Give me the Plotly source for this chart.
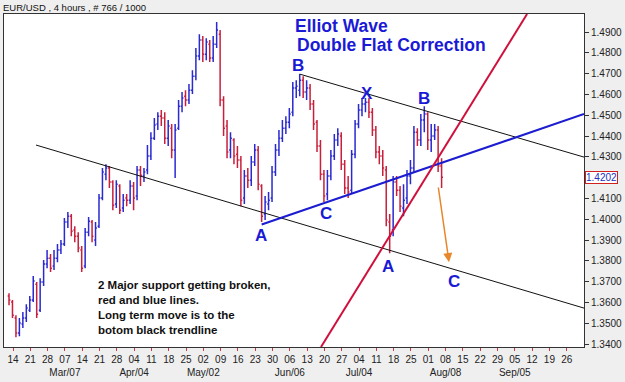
import numpy as np
import plotly.graph_objects as go

# ---------------- data ----------------
week_labels = ["14", "21", "28", "07", "14", "21", "28", "04", "11", "18", "25", "02", "09",
               "16", "23", "30", "06", "13", "20", "27", "04", "11", "18", "25", "01", "08",
               "15", "22", "29", "05", "12", "19", "26"]
month_labels = {3: "Mar/07", 7: "Apr/04", 11: "May/02", 16: "Jun/06",
                20: "Jul/04", 25: "Aug/08", 29: "Sep/05"}

open_ = [1.3631, 1.3602, 1.3525, 1.3453, 1.3496, 1.3525, 1.3563, 1.3612, 1.3688, 1.3563,
         1.3698, 1.3785, 1.3813, 1.3775, 1.3813, 1.3852, 1.3881, 1.3987, 1.4015, 1.3948,
         1.3919, 1.3852, 1.3775, 1.3938, 1.3987, 1.3900, 1.3967, 1.4102, 1.4217, 1.4246,
         1.4179, 1.4073, 1.4160, 1.4054, 1.4102, 1.4092, 1.4160, 1.4112, 1.4237, 1.4208,
         1.4237, 1.4304, 1.4390, 1.4458, 1.4496, 1.4487, 1.4390, 1.4438, 1.4333, 1.4438,
         1.4544, 1.4592, 1.4573, 1.4621, 1.4688, 1.4785, 1.4862, 1.4794, 1.4842, 1.4775,
         1.4842, 1.4890, 1.4573, 1.4448, 1.4333, 1.4381, 1.4313, 1.4285, 1.4102, 1.4208,
         1.4188, 1.4275, 1.4333, 1.4160, 1.4025, 1.4073, 1.4102, 1.4227, 1.4333, 1.4390,
         1.4438, 1.4467, 1.4515, 1.4631, 1.4621, 1.4669, 1.4612, 1.4631, 1.4554, 1.4467,
         1.4352, 1.4217, 1.4121, 1.4208, 1.4304, 1.4381, 1.4400, 1.4265, 1.4150, 1.4140,
         1.4313, 1.4458, 1.4525, 1.4554, 1.4563, 1.4515, 1.4429, 1.4323, 1.4304, 1.4237,
         1.3987, 1.3948, 1.4179, 1.4140, 1.4054, 1.4102, 1.4208, 1.4246, 1.4419, 1.4381,
         1.4477, 1.4506, 1.4381, 1.4400, 1.4429, 1.4256]
high = [1.3645, 1.3612, 1.3539, 1.3525, 1.3554, 1.3592, 1.3631, 1.3727, 1.3698, 1.3717,
        1.3804, 1.3852, 1.3833, 1.3852, 1.3881, 1.3900, 1.4006, 1.4035, 1.4025, 1.3967,
        1.3938, 1.3871, 1.3958, 1.4011, 1.3996, 1.3987, 1.4121, 1.4246, 1.4265, 1.4256,
        1.4188, 1.4188, 1.4169, 1.4121, 1.4121, 1.4188, 1.4179, 1.4256, 1.4256, 1.4246,
        1.4357, 1.4419, 1.4487, 1.4515, 1.4525, 1.4515, 1.4477, 1.4458, 1.4458, 1.4573,
        1.4612, 1.4621, 1.4650, 1.4717, 1.4823, 1.4890, 1.4881, 1.4871, 1.4862, 1.4881,
        1.4948, 1.4910, 1.4592, 1.4477, 1.4419, 1.4390, 1.4352, 1.4304, 1.4237, 1.4246,
        1.4304, 1.4362, 1.4352, 1.4169, 1.4112, 1.4131, 1.4256, 1.4362, 1.4429, 1.4477,
        1.4496, 1.4535, 1.4660, 1.4669, 1.4698, 1.4688, 1.4669, 1.4650, 1.4573, 1.4477,
        1.4381, 1.4237, 1.4237, 1.4333, 1.4410, 1.4438, 1.4419, 1.4285, 1.4208, 1.4333,
        1.4477, 1.4554, 1.4583, 1.4583, 1.4583, 1.4535, 1.4448, 1.4352, 1.4333, 1.4256,
        1.4025, 1.4208, 1.4208, 1.4160, 1.4169, 1.4237, 1.4285, 1.4448, 1.4438, 1.4506,
        1.4544, 1.4515, 1.4458, 1.4458, 1.4448, 1.4294]
low = [1.3587, 1.3525, 1.3433, 1.3438, 1.3477, 1.3506, 1.3554, 1.3602, 1.3525, 1.3554,
       1.3679, 1.3765, 1.3746, 1.3756, 1.3794, 1.3833, 1.3871, 1.3958, 1.3919, 1.3890,
       1.3842, 1.3746, 1.3765, 1.3919, 1.3890, 1.3871, 1.3958, 1.4092, 1.4188, 1.4150,
       1.4044, 1.4054, 1.4025, 1.4035, 1.4063, 1.4073, 1.4044, 1.4092, 1.4160, 1.4179,
       1.4217, 1.4285, 1.4381, 1.4429, 1.4448, 1.4362, 1.4352, 1.4294, 1.4198, 1.4429,
       1.4515, 1.4544, 1.4554, 1.4602, 1.4669, 1.4765, 1.4756, 1.4765, 1.4756, 1.4756,
       1.4823, 1.4544, 1.4400, 1.4294, 1.4294, 1.4265, 1.4246, 1.4063, 1.4073, 1.4150,
       1.4160, 1.4256, 1.4140, 1.3987, 1.3996, 1.4044, 1.4083, 1.4208, 1.4304, 1.4371,
       1.4410, 1.4438, 1.4496, 1.4583, 1.4592, 1.4583, 1.4573, 1.4525, 1.4429, 1.4323,
       1.4188, 1.4083, 1.4092, 1.4188, 1.4285, 1.4352, 1.4237, 1.4121, 1.4102, 1.4121,
       1.4294, 1.4438, 1.4496, 1.4515, 1.4487, 1.4400, 1.4294, 1.4265, 1.4208, 1.3967,
       1.3837, 1.3919, 1.4112, 1.4035, 1.4015, 1.4073, 1.4169, 1.4227, 1.4352, 1.4352,
       1.4419, 1.4333, 1.4323, 1.4381, 1.4227, 1.4150]
close = [1.3612, 1.3539, 1.3453, 1.3501, 1.3525, 1.3573, 1.3612, 1.3703, 1.3544, 1.3698,
         1.3785, 1.3813, 1.3765, 1.3813, 1.3852, 1.3881, 1.3987, 1.4015, 1.3943, 1.3919,
         1.3862, 1.3765, 1.3938, 1.3991, 1.3919, 1.3958, 1.4102, 1.4227, 1.4246, 1.4179,
         1.4068, 1.4169, 1.4044, 1.4092, 1.4092, 1.4160, 1.4102, 1.4237, 1.4212, 1.4227,
         1.4304, 1.4390, 1.4453, 1.4496, 1.4487, 1.4390, 1.4448, 1.4333, 1.4429, 1.4544,
         1.4583, 1.4573, 1.4621, 1.4688, 1.4785, 1.4862, 1.4794, 1.4852, 1.4775, 1.4842,
         1.4910, 1.4573, 1.4438, 1.4323, 1.4390, 1.4304, 1.4285, 1.4092, 1.4208, 1.4188,
         1.4275, 1.4333, 1.4169, 1.4015, 1.4083, 1.4092, 1.4227, 1.4333, 1.4390, 1.4438,
         1.4467, 1.4506, 1.4631, 1.4640, 1.4669, 1.4612, 1.4631, 1.4554, 1.4458, 1.4352,
         1.4217, 1.4112, 1.4208, 1.4304, 1.4381, 1.4410, 1.4265, 1.4150, 1.4131, 1.4313,
         1.4458, 1.4525, 1.4554, 1.4563, 1.4515, 1.4429, 1.4323, 1.4304, 1.4246, 1.3996,
         1.3919, 1.4179, 1.4140, 1.4063, 1.4092, 1.4208, 1.4246, 1.4419, 1.4381, 1.4477,
         1.4506, 1.4381, 1.4400, 1.4429, 1.4256, 1.4202]
last_price = 1.4202
price_ticks = [1.34, 1.35, 1.36, 1.37, 1.38, 1.39, 1.40, 1.41,
               1.43, 1.44, 1.45, 1.46, 1.47, 1.48, 1.49]

# trendline anchor points: (week, price)
upper_line = [(16.57, 1.4698), (33.0, 1.4299)]
lower_line = [(1.33, 1.4357), (33.0, 1.3573)]
blue_line = [(14.37, 1.3975), (33.0, 1.4506)]
red_line = [(17.80, 1.3386), (29.71, 1.4987)]
projection = [(24.57, 1.4160), (25.20, 1.3794)]

wave_labels = [("B", 16.47, 1.4741), ("X", 20.46, 1.4604), ("B", 23.76, 1.4580),
               ("A", 14.34, 1.3922), ("C", 18.09, 1.4027), ("A", 21.65, 1.3775),
               ("C", 25.49, 1.3703)]

# time axis: daily sessions, 5 per week, in week units
x_week = -0.23 + np.arange(len(close)) / 5.0

FONT = "Liberation Sans, Arial, sans-serif"
BLUE_TXT = "#1a1ad6"

fig = go.Figure()
fig.add_trace(go.Ohlc(
    x=x_week, open=open_, high=high, low=low, close=close,
    increasing=dict(line=dict(color="#2a2ad0", width=1.5)),
    decreasing=dict(line=dict(color="#c8203c", width=1.5)),
    tickwidth=0.4, showlegend=False, hoverinfo="skip"))

def seg(pts, color, width):
    (x0, y0), (x1, y1) = pts
    return dict(type="line", xref="x", yref="y", x0=x0, y0=y0, x1=x1, y1=y1,
                line=dict(color=color, width=width), layer="above")

shapes = [
    seg(upper_line, "#111111", 1),
    seg(lower_line, "#111111", 1),
    seg(blue_line, "#1c1cd0", 2),
    seg(red_line, "#d0103c", 2),
]

tickvals = list(range(len(week_labels)))
ticktext = [lab + ("<br>" + month_labels[i] if i in month_labels else "")
            for i, lab in enumerate(week_labels)]

annotations = []
for t, x, y in wave_labels:
    annotations.append(dict(x=x, y=y, xref="x", yref="y", text=t, showarrow=False,
                            font=dict(family=FONT, size=17, color=BLUE_TXT, weight="bold")))

annotations.append(dict(x=projection[1][0], y=projection[1][1], ax=projection[0][0],
                        ay=projection[0][1], xref="x", yref="y", axref="x", ayref="y",
                        text="", showarrow=True, arrowhead=2, arrowsize=1.2,
                        arrowwidth=1.5, arrowcolor="#e8862a"))

annotations += [
    dict(xref="paper", yref="paper", x=0.4985, y=0.964, xanchor="left", yanchor="middle",
         text="Elliot Wave", showarrow=False,
         font=dict(family=FONT, size=17.5, color=BLUE_TXT, weight="bold")),
    dict(xref="paper", yref="paper", x=0.501, y=0.908, xanchor="left", yanchor="middle",
         text="Double Flat Correction", showarrow=False,
         font=dict(family=FONT, size=17.5, color=BLUE_TXT, weight="bold")),
    dict(xref="paper", yref="paper", x=0.158, y=0.118, xanchor="left", yanchor="middle",
         align="left", showarrow=False,
         text="2 Major support getting broken,<br>red and blue lines.<br>"
              "Long term move is to the<br>botom black trendline",
         font=dict(family=FONT, size=11.5, color="#111111", weight="bold")),
    dict(xref="paper", yref="paper", x=0, y=1, xanchor="left", yanchor="bottom",
         xshift=-3, yshift=-1, text="EUR/USD , 4 hours , # 766 / 1000", showarrow=False,
         font=dict(family=FONT, size=9.5, color="#111111")),
    dict(xref="paper", yref="y", x=1, y=last_price, xanchor="left", yanchor="middle",
         xshift=1, text=f"{last_price:.4f}", showarrow=False, bgcolor="white",
         bordercolor="#d02020", borderwidth=1, borderpad=0,
         font=dict(family=FONT, size=10, color="#2030c0")),
]

fig.update_layout(
    width=625, height=382,
    margin=dict(l=4, r=41, t=14, b=35, autoexpand=False),
    paper_bgcolor="#efefef", plot_bgcolor="white",
    shapes=shapes, annotations=annotations,
    showlegend=False,
    font=dict(family=FONT, size=10, color="#222222"),
    xaxis=dict(range=[-0.52, 33.0], tickvals=tickvals, ticktext=ticktext,
               tickangle=0, automargin=False,
               showgrid=False, zeroline=False, showline=True, mirror=True,
               linecolor="#333333", linewidth=1, ticks="outside", ticklen=3,
               tickcolor="#c04040", tickfont=dict(size=10, color="#222222"),
               rangeslider=dict(visible=False)),
    yaxis=dict(range=[1.3386, 1.4987], side="right", automargin=False,
               tickvals=price_ticks,
               tickformat=".4f", showgrid=False, zeroline=False, showline=True,
               mirror=True, linecolor="#333333", linewidth=1, ticks="outside",
               ticklen=4, tickcolor="#333333", tickfont=dict(size=10, color="#222222")),
)

fig.write_html("out.html")
